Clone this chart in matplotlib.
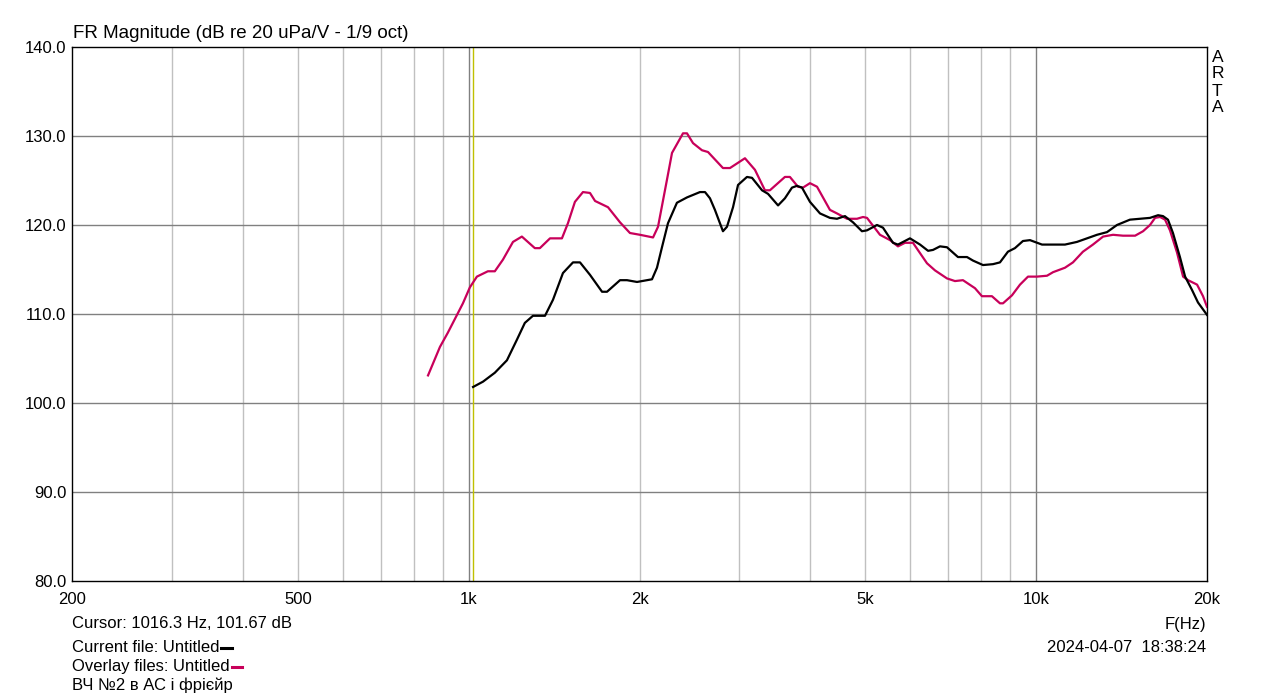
import numpy as np
import matplotlib.pyplot as plt

plt.rcParams['font.family'] = ['Liberation Sans', 'DejaVu Sans']

# Current file (black), frequency in Hz and level in dB
cur_f = [1018, 1060, 1112, 1168, 1216, 1256, 1298, 1363, 1408, 1466, 1527, 1571, 1636,
         1718, 1753, 1848, 1901, 1980, 2104, 2147, 2191, 2245, 2328, 2425, 2556, 2609,
         2662, 2716, 2806, 2852, 2923, 2983, 3093, 3157, 3288, 3369, 3509, 3608, 3713,
         3789, 3867, 3994, 4160, 4331, 4457, 4604, 4756, 4932, 5034, 5242, 5371, 5594,
         5708, 5993, 6243, 6449, 6580, 6769, 6963, 7281, 7553, 7740, 8059, 8393, 8634,
         8918, 9175, 9477, 9752, 10240, 10575, 11240, 11800, 12290, 12800, 13330, 13880,
         14630, 15240, 15870, 16400, 16730, 17070, 17420, 17920, 18300, 18820, 19280, 20000]
cur_db = [101.8, 102.4, 103.4, 104.8, 107.1, 109.0, 109.8, 109.8, 111.6, 114.6, 115.8, 115.8, 114.4,
          112.5, 112.5, 113.8, 113.8, 113.6, 113.9, 115.2, 117.5, 120.2, 122.5, 123.1, 123.7, 123.7,
          123.0, 121.7, 119.3, 119.8, 122.0, 124.5, 125.4, 125.3, 123.9, 123.5, 122.2, 123.0, 124.2,
          124.4, 124.2, 122.6, 121.3, 120.8, 120.7, 121.0, 120.3, 119.3, 119.4, 120.0, 119.7, 118.0,
          117.8, 118.5, 117.8, 117.1, 117.2, 117.6, 117.5, 116.4, 116.4, 116.0, 115.5, 115.6, 115.8,
          117.0, 117.4, 118.2, 118.3, 117.8, 117.8, 117.8, 118.1, 118.5, 118.9, 119.2, 120.0,
          120.6, 120.7, 120.8, 121.1, 121.0, 120.6, 119.1, 116.4, 114.2, 112.7, 111.3, 109.9]

# Overlay file (magenta)
ovl_f = [848, 890, 919, 977, 1005, 1034, 1081, 1112, 1149, 1197, 1241, 1308, 1335, 1391,
         1460, 1496, 1539, 1590, 1636, 1670, 1760, 1848, 1924, 2004, 2113, 2156, 2236, 2282,
         2386, 2425, 2485, 2577, 2641, 2806, 2887, 3068, 3195, 3327, 3395, 3608, 3682, 3804,
         3882, 3994, 4110, 4331, 4457, 4641, 4834, 4953, 5034, 5306, 5527, 5708, 5873, 6066,
         6421, 6633, 6963, 7193, 7430, 7801, 8025, 8357, 8634, 8741, 9066, 9365, 9674, 10030,
         10450, 10710, 11240, 11610, 12090, 12590, 13120, 13660, 14220, 14940, 15430, 15870,
         16200, 16530, 16870, 17210, 17710, 18150, 18520, 19210, 19680, 20000]
ovl_db = [103.1, 106.3, 107.9, 111.2, 113.0, 114.2, 114.8, 114.8, 116.1, 118.1, 118.7, 117.4, 117.4, 118.5,
          118.5, 120.2, 122.6, 123.7, 123.6, 122.7, 122.0, 120.3, 119.1, 118.9, 118.6, 119.8, 125.1, 128.1,
          130.3, 130.3, 129.2, 128.4, 128.2, 126.4, 126.4, 127.5, 126.2, 123.9, 123.9, 125.4, 125.4, 124.3,
          124.2, 124.7, 124.3, 121.7, 121.3, 120.7, 120.7, 120.9, 120.8, 118.9, 118.3, 117.6, 118.0, 118.0,
          115.7, 114.9, 114.0, 113.7, 113.8, 112.9, 112.0, 112.0, 111.2, 111.2, 112.1, 113.3, 114.2, 114.2,
          114.3, 114.7, 115.2, 115.8, 117.0, 117.8, 118.7, 118.9, 118.8, 118.8, 119.3, 120.0,
          120.8, 120.9, 120.6, 119.4, 116.9, 114.2, 113.8, 113.3, 112.0, 110.8]

x_ticks = [200, 500, 1000, 2000, 5000, 10000, 20000]
x_labels = ['200', '500', '1k', '2k', '5k', '10k', '20k']
y_ticks = [80, 90, 100, 110, 120, 130, 140]
cursor_f = 1016.3

fig = plt.figure(figsize=(12.79, 6.99), dpi=100)
ax = fig.add_axes([72 / 1279, 1 - 581 / 699, 1135 / 1279, 534 / 699])
ax.set_xscale('log')
ax.set_xlim(200, 20000)
ax.set_ylim(80, 140)

# grid like ARTA: light minor verticals, darker decade lines and dB lines
minor = [f * m for f in (100, 1000, 10000) for m in range(2, 10)]
for f in minor:
    if 200 < f < 20000:
        ax.axvline(f, color='#c0c0c0', lw=1.0, zorder=1)
for f in (1000, 10000):
    ax.axvline(f, color='#808080', lw=1.0, zorder=1)
for y in y_ticks[1:-1]:
    ax.axhline(y, color='#808080', lw=1.0, zorder=1)
ax.axvline(cursor_f, color='#c0c000', lw=1.0, zorder=2)

ax.plot(ovl_f, ovl_db, color='#c8005a', lw=1.6, zorder=3)
ax.plot(cur_f, cur_db, color='black', lw=1.6, zorder=4)

ax.set_xticks(x_ticks)
ax.set_xticklabels(x_labels)
ax.xaxis.set_minor_locator(plt.NullLocator())
ax.set_yticks(y_ticks)
ax.set_yticklabels(['%.1f' % v for v in y_ticks])
ax.tick_params(axis='y', length=0, labelsize=12, pad=4)
ax.tick_params(axis='x', length=0, labelsize=12, pad=8)
for s in ax.spines.values():
    s.set_linewidth(1.0)

fig.text(73 / 1279, 1 - 33 / 699, 'FR Magnitude (dB re 20 uPa/V - 1/9 oct)',
         fontsize=13.5, va='center', ha='left')
for i, ch in enumerate('ARTA'):
    fig.text(1212 / 1279, 1 - (57 + 17 * i) / 699, ch, fontsize=12.5, va='center', ha='left')

fig.text(72 / 1279, 1 - 624 / 699, 'Cursor: 1016.3 Hz, 101.67 dB', fontsize=12, va='center')
t1 = fig.text(72 / 1279, 1 - 647 / 699, 'Current file: Untitled', fontsize=12, va='center')
t2 = fig.text(72 / 1279, 1 - 666 / 699, 'Overlay files: Untitled', fontsize=12, va='center')
fig.text(72 / 1279, 1 - 685 / 699, 'ВЧ №2 в АС і фрієйр', fontsize=12, va='center')
fig.text(1206 / 1279, 1 - 624 / 699, 'F(Hz)', fontsize=12, va='center', ha='right')
fig.text(1206 / 1279, 1 - 647 / 699, '2024-04-07  18:38:24', fontsize=12, va='center', ha='right')

# little colour dashes after the file names
fig.canvas.draw()
for t, c in ((t1, 'black'), (t2, '#c8005a')):
    bb = t.get_window_extent()
    x0 = bb.x1 / 1279 + 2 / 1279
    yy = (bb.y0 + bb.y1) / 2 / 699 - 1 / 699
    fig.add_artist(plt.Line2D([x0, x0 + 10 / 1279], [yy, yy], color=c, lw=2.2))

fig.savefig('out.png', dpi=100)
